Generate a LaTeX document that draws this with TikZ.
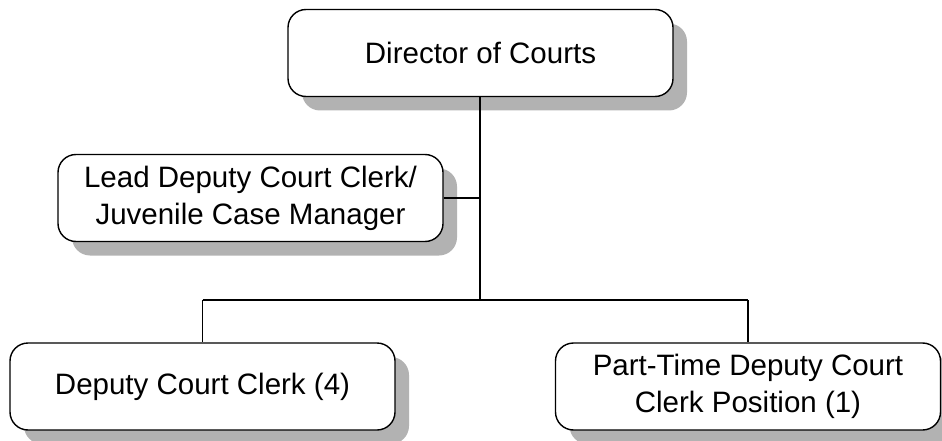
\documentclass[tikz,border=0pt]{standalone}
\usepackage{fontspec}
\setmainfont{Liberation Sans}
\usetikzlibrary{shadows}
\begin{document}
\begin{tikzpicture}[x=1pt,y=-1pt,
  orgbox/.style={draw=black, line width=1.4pt, fill=white,
    rounded corners=18pt, minimum width=385pt, minimum height=87pt,
    align=center, inner sep=0pt,
    font=\fontsize{29.5}{37}\selectfont,
    drop shadow={shadow xshift=14pt, shadow yshift=-14pt, fill=black!30, opacity=1, draw=none}},
  link/.style={draw=black, line width=1.6pt}]
  \useasboundingbox (0,0) rectangle (942,441);

  \node[orgbox] (dir)  at (480.5,53)  {Director of Courts};
  \node[orgbox] (lead) at (250.5,198) {Lead Deputy Court Clerk/\\Juvenile Case Manager};
  \node[orgbox] (dep)  at (202.5,386.5) {Deputy Court Clerk (4)};
  \node[orgbox] (part) at (748,386.5) {Part-Time Deputy Court\\Clerk Position (1)};

  \coordinate (hub)  at (480,300);
  \coordinate (hubl) at (dep.north |- hub);
  \coordinate (hubr) at (part.north |- hub);

  \draw[link] (dir.south -| hub) -- (hub);
  \draw[link] (lead.east) -- (lead.east -| hub);
  \draw[link] (hubl) -- (hubr);
  \draw[link] (hubl) -- (dep.north);
  \draw[link] (hubr) -- (part.north);
\end{tikzpicture}
\end{document}
